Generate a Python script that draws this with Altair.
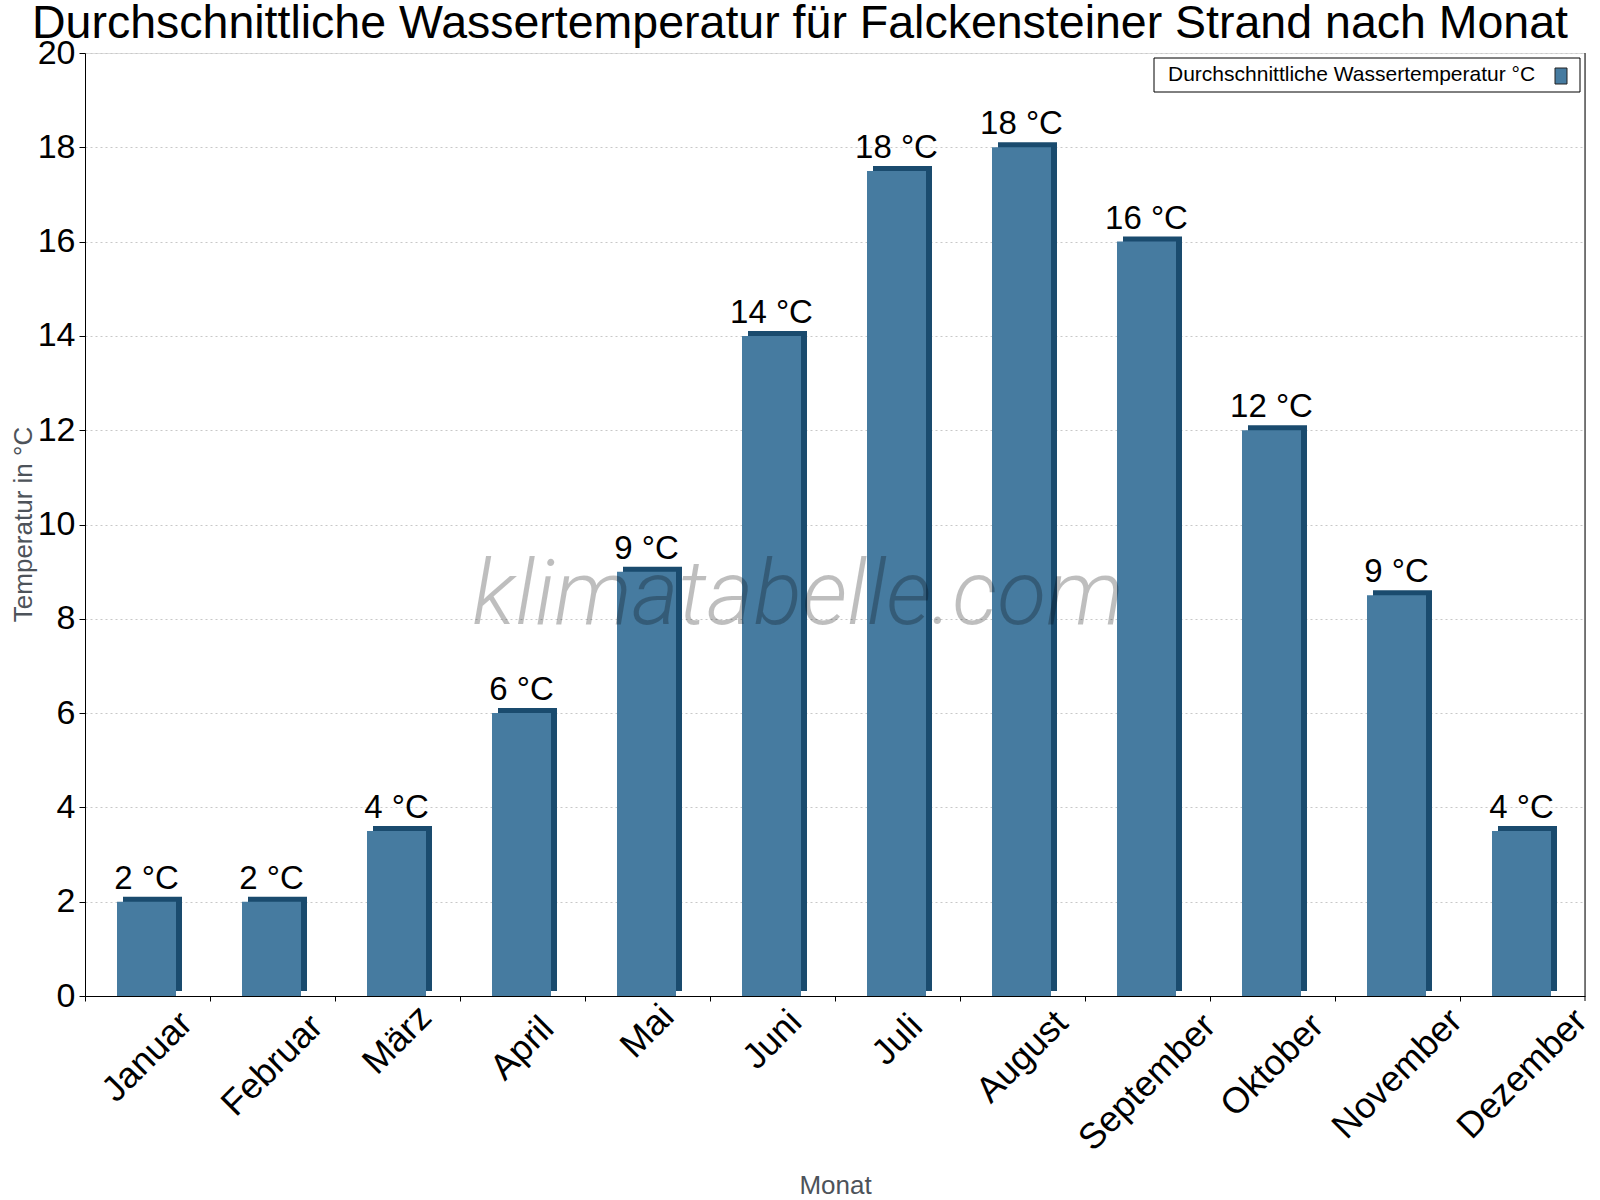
import altair as alt
import pandas as pd

# Monthly mean water temperature (°C)
monate = ["Januar", "Februar", "März", "April", "Mai", "Juni", "Juli",
          "August", "September", "Oktober", "November", "Dezember"]
wassertemperatur = [2, 2, 3.5, 6, 9, 14, 17.5, 18, 16, 12, 8.5, 3.5]
y_ticks = [0, 2, 4, 6, 8, 10, 12, 14, 16, 18, 20]

titel = "Durchschnittliche Wassertemperatur für Falckensteiner Strand nach Monat"
legenden_text = "Durchschnittliche Wassertemperatur °C"
y_titel = "Temperatur in °C"
x_titel = "Monat"
wasserzeichen = "klimatabelle.com"

FONT = "Liberation Sans"
BAR = "#467ba0"
BAR_DARK = "#1a4b6e"
AXIS_TITLE = "#4d535a"
W, H = 1500, 943

df = pd.DataFrame({"monat": monate, "temp": wassertemperatur})
one = pd.DataFrame({"k": [0]})

x_enc = alt.X(
    "monat:N", sort=monate,
    scale=alt.Scale(paddingInner=0, paddingOuter=0),
    axis=alt.Axis(
        labels=False, bandPosition=0, tickSize=5, tickColor="black",
        domainColor="black", title=x_titel, titleFont=FONT, titleFontSize=26,
        titleFontWeight="normal", titleColor=AXIS_TITLE,
        titleY=197, titleBaseline="alphabetic",
    ),
)
y_enc = alt.Y(
    "temp:Q",
    scale=alt.Scale(domain=[0, 20], nice=False),
    axis=alt.Axis(
        values=y_ticks, grid=True, gridDash=[2, 3], gridColor="#c8c8c8",
        tickSize=6, tickColor="black", domainColor="black",
        labelFont=FONT, labelFontSize=34, labelColor="black", labelPadding=4,
        title=y_titel, titleFont=FONT, titleFontSize=26, titleFontWeight="normal",
        titleColor=AXIS_TITLE, titleX=-54, titleY=471, titleBaseline="alphabetic",
    ),
)

# 3D look: darker copy shifted up-right behind each bar
back = alt.Chart().mark_bar(
    size=59, color=BAR_DARK, xOffset=5, yOffset=-5, y2Offset=-5
).encode(x=x_enc, y=y_enc)

front = alt.Chart().mark_bar(size=59, color=BAR, xOffset=-1).encode(
    x=x_enc, y=y_enc
)

werte = alt.Chart().transform_calculate(
    beschriftung="format(datum.temp, '.0f') + ' °C'"
).mark_text(
    font=FONT, fontSize=33, color="black", align="center",
    baseline="alphabetic", dx=-1, dy=-13,
).encode(x=x_enc, y=y_enc, text="beschriftung:N")

# rotated month names below the axis; the offset is given in the rotated
# text frame, so a straight downward shift D becomes dx=-0.707D, dy=0.707D
shift = "(10 + 8.5 * length(datum.monat))"
monat_labels = alt.Chart().mark_text(
    font=FONT, fontSize=36, color="black", angle=315, align="center",
    baseline="middle",
    dx={"expr": f"-0.7071 * {shift}"},
    dy={"expr": f"0.7071 * {shift}"},
).encode(x=x_enc, y=alt.datum(0), text="monat:N")

rahmen = alt.Chart(one).mark_rule(color="black", strokeWidth=1).encode(
    x=alt.value(W), y=alt.value(0), y2=alt.value(H + 5)
)

legende_box = alt.Chart(one).mark_rect(
    fill="white", stroke="black", strokeWidth=1
).encode(
    x=alt.value(1069), x2=alt.value(1495), y=alt.value(5), y2=alt.value(39)
)
legende_text = alt.Chart(one).mark_text(
    font=FONT, fontSize=21, color="black", align="left", baseline="middle"
).encode(x=alt.value(1083), y=alt.value(22), text=alt.value(legenden_text))
legende_symbol = alt.Chart(one).mark_rect(
    fill=BAR, stroke="#222222", strokeWidth=1
).encode(
    x=alt.value(1470), x2=alt.value(1482), y=alt.value(15), y2=alt.value(31)
)

marke = alt.Chart(one).mark_text(
    font="Roboto", fontSize=90, fontStyle="italic", fontWeight=300,
    color="black", opacity=0.25, align="center", baseline="alphabetic",
).encode(x=alt.value(713), y=alt.value(571), text=alt.value(wasserzeichen))

chart = alt.layer(
    back, front, werte, monat_labels, rahmen,
    legende_box, legende_text, legende_symbol, marke,
    data=df,
).properties(
    width=W, height=H,
    title=alt.TitleParams(
        titel, font=FONT, fontSize=46.5, fontWeight="normal", color="black",
        anchor="middle", frame="group", dx=-35, baseline="alphabetic", offset=-48,
    ),
    padding={"left": 85, "top": 53, "right": 15, "bottom": 204},
    autosize=alt.AutoSizeParams(type="none"),
).configure_view(stroke=None).configure(background="white")

chart.save("out.html", embed_options={"renderer": "svg", "actions": False})
